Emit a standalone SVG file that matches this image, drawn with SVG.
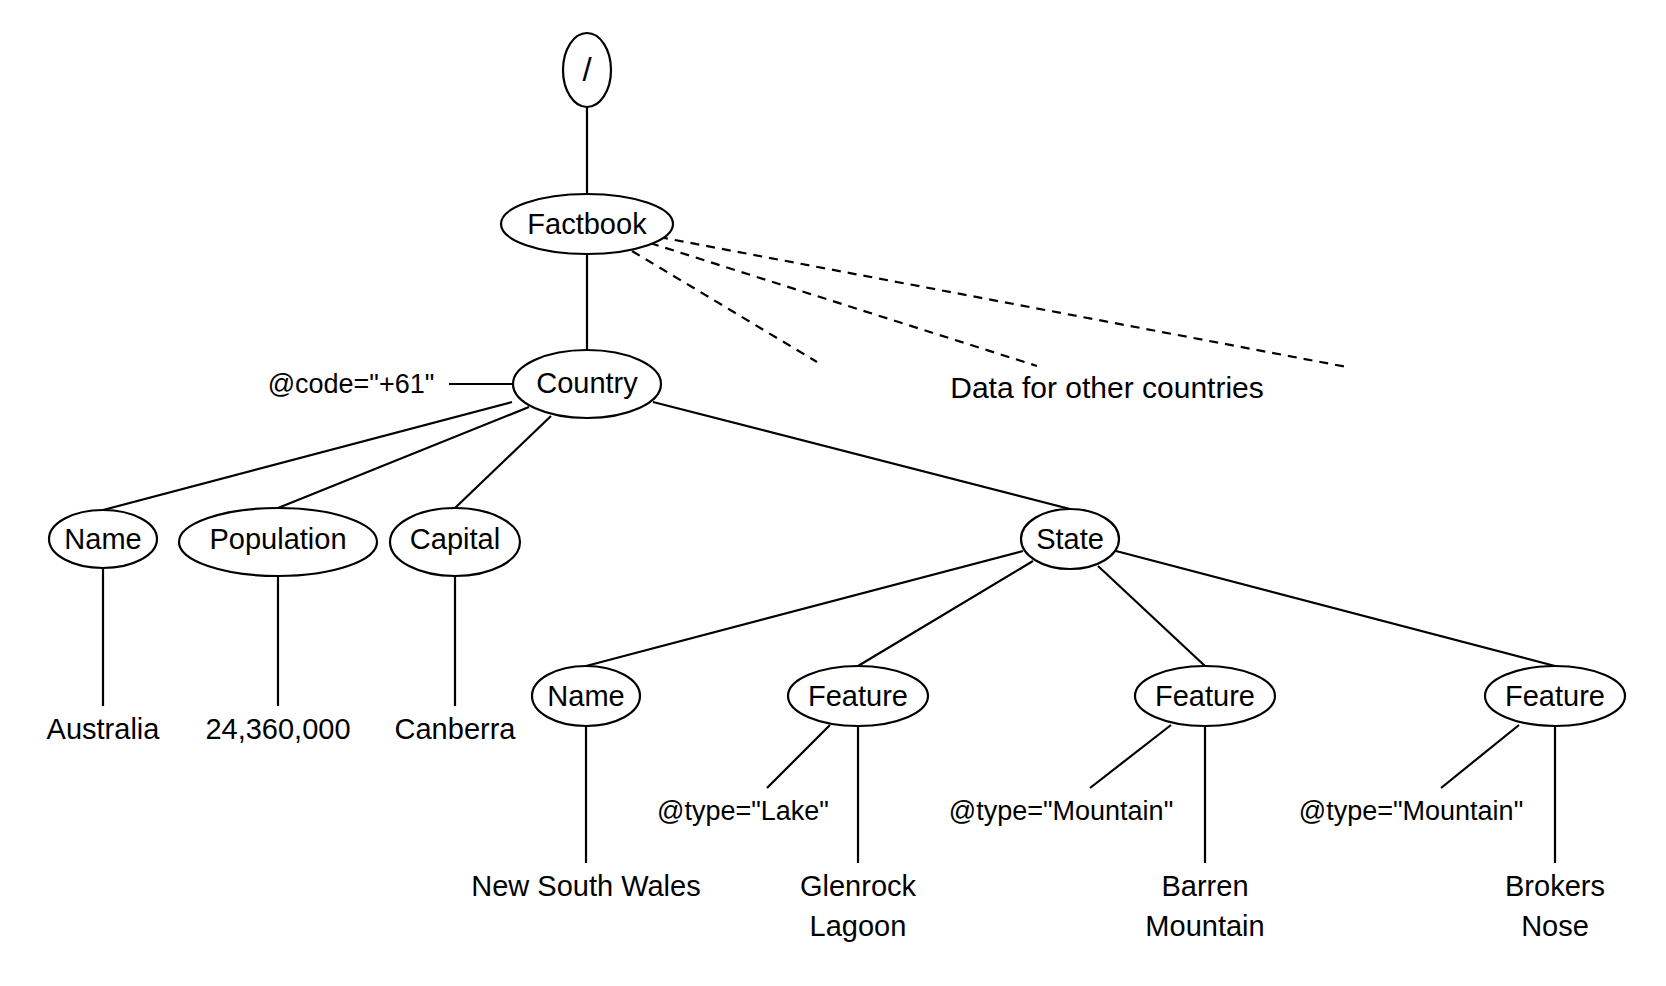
<svg xmlns="http://www.w3.org/2000/svg" width="1666" height="986" viewBox="0 0 1666 986">
<style>
.n{fill:#fff;stroke:#000;stroke-width:2.2}
.t{font-family:"Liberation Sans",Arial,sans-serif;font-size:29px;fill:#000;text-anchor:middle}
.a{font-family:"Liberation Sans",Arial,sans-serif;font-size:27px;fill:#000;text-anchor:middle}
.e{stroke:#000;stroke-width:2.2;fill:none}
.d{stroke:#000;stroke-width:2.2;fill:none;stroke-dasharray:9 7}
</style>
<rect width="1666" height="986" fill="#fff"/>
<g id="connectors">
<line class="e" x1="587" y1="107" x2="587" y2="194"/>
<line class="e" x1="587" y1="254" x2="587" y2="350"/>
<line class="d" x1="632" y1="251" x2="817" y2="362"/>
<line class="d" x1="650" y1="243" x2="1037" y2="366"/>
<line class="d" x1="659" y1="237" x2="1347" y2="367"/>
<line class="e" x1="449" y1="384" x2="513" y2="384"/>
<line class="e" x1="512" y1="402" x2="103" y2="510"/>
<line class="e" x1="529" y1="407" x2="278" y2="508"/>
<line class="e" x1="551" y1="416" x2="455" y2="508"/>
<line class="e" x1="653" y1="402" x2="1070" y2="509"/>
<line class="e" x1="103" y1="568" x2="103" y2="706"/>
<line class="e" x1="278" y1="576" x2="278" y2="706"/>
<line class="e" x1="455" y1="576" x2="455" y2="706"/>
<line class="e" x1="1023" y1="551" x2="586" y2="666"/>
<line class="e" x1="1033" y1="561" x2="858" y2="666"/>
<line class="e" x1="1098" y1="566" x2="1205" y2="666"/>
<line class="e" x1="1116" y1="551" x2="1555" y2="666"/>
<line class="e" x1="586" y1="726" x2="586" y2="863"/>
<line class="e" x1="858" y1="726" x2="858" y2="863"/>
<line class="e" x1="1205" y1="726" x2="1205" y2="863"/>
<line class="e" x1="1555" y1="726" x2="1555" y2="863"/>
<line class="e" x1="830" y1="725" x2="767" y2="788"/>
<line class="e" x1="1171" y1="725" x2="1090" y2="788"/>
<line class="e" x1="1519" y1="725" x2="1441" y2="788"/>
</g>
<g id="root"><ellipse class="n" cx="587" cy="70" rx="24" ry="37"/><text class="t" x="587" y="81" style="font-size:33px">/</text></g>
<g id="factbook"><ellipse class="n" cx="587" cy="224" rx="86" ry="30"/><text class="t" x="587" y="234">Factbook</text></g>
<g id="country"><ellipse class="n" cx="587" cy="384" rx="74" ry="34"/><text class="t" x="587" y="393">Country</text></g>
<g id="code-attr"><text class="a" x="351" y="393">@code="+61"</text></g>
<g id="others"><text class="t" x="1107" y="398" style="font-size:30px">Data for other countries</text></g>
<g id="name1"><ellipse class="n" cx="103" cy="539" rx="54" ry="29"/><text class="t" x="103" y="549">Name</text></g>
<g id="population"><ellipse class="n" cx="278" cy="542" rx="99" ry="34"/><text class="t" x="278" y="549">Population</text></g>
<g id="capital"><ellipse class="n" cx="455" cy="542" rx="65" ry="34"/><text class="t" x="455" y="549">Capital</text></g>
<g id="state"><ellipse class="n" cx="1070" cy="539" rx="49" ry="30"/><text class="t" x="1070" y="549">State</text></g>
<g id="australia"><text class="t" x="103" y="739">Australia</text></g>
<g id="pop-value"><text class="t" x="278" y="739">24,360,000</text></g>
<g id="canberra"><text class="t" x="455" y="739">Canberra</text></g>
<g id="name2"><ellipse class="n" cx="586" cy="696" rx="54" ry="30"/><text class="t" x="586" y="706">Name</text></g>
<g id="feature1"><ellipse class="n" cx="858" cy="696" rx="70" ry="30"/><text class="t" x="858" y="706">Feature</text></g>
<g id="feature2"><ellipse class="n" cx="1205" cy="696" rx="70" ry="30"/><text class="t" x="1205" y="706">Feature</text></g>
<g id="feature3"><ellipse class="n" cx="1555" cy="696" rx="70" ry="30"/><text class="t" x="1555" y="706">Feature</text></g>
<g id="type1"><text class="a" x="743" y="820">@type="Lake"</text></g>
<g id="type2"><text class="a" x="1061" y="820">@type="Mountain"</text></g>
<g id="type3"><text class="a" x="1411" y="820">@type="Mountain"</text></g>
<g id="nsw"><text class="t" x="586" y="896">New South Wales</text></g>
<g id="glenrock"><text class="t" x="858" y="896">Glenrock</text><text class="t" x="858" y="936">Lagoon</text></g>
<g id="barren"><text class="t" x="1205" y="896">Barren</text><text class="t" x="1205" y="936">Mountain</text></g>
<g id="brokers"><text class="t" x="1555" y="896">Brokers</text><text class="t" x="1555" y="936">Nose</text></g>
</svg>
